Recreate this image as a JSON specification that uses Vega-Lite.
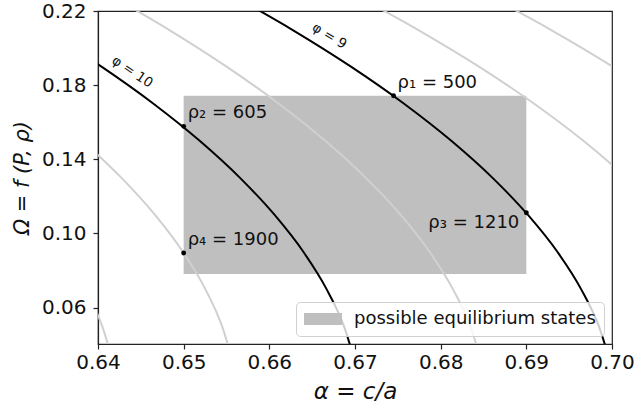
{
  "$schema": "https://vega.github.io/schema/vega-lite/v6.json",
  "autosize": {"type": "none"},
  "padding": {"left": 98, "top": 11, "right": 26, "bottom": 65},
  "width": 514,
  "height": 333,
  "background": "white",
  "config": {
    "font": "DejaVu Sans",
    "view": {"stroke": "#222", "strokeWidth": 1.2},
    "axis": {
      "domainColor": "#222", "tickColor": "#222", "labelColor": "#111", "titleColor": "#111",
      "labelFont": "DejaVu Sans", "titleFont": "DejaVu Sans",
      "labelFontSize": 20, "titleFontSize": 21, "titleFontWeight": "normal",
      "tickSize": 5, "tickWidth": 1.2, "domainWidth": 1.2, "grid": false,
      "labelFlush": false, "labelOverlap": false
    }
  },
  "datasets": {
    "curves": [
      {"curve": "phi10", "kind": "black", "omega": 0.03, "alpha": 0.67005},
      {"curve": "phi10", "kind": "black", "omega": 0.05, "alpha": 0.66871},
      {"curve": "phi10", "kind": "black", "omega": 0.07, "alpha": 0.66668},
      {"curve": "phi10", "kind": "black", "omega": 0.09, "alpha": 0.66399},
      {"curve": "phi10", "kind": "black", "omega": 0.11, "alpha": 0.66062},
      {"curve": "phi10", "kind": "black", "omega": 0.13, "alpha": 0.65658},
      {"curve": "phi10", "kind": "black", "omega": 0.15, "alpha": 0.65187},
      {"curve": "phi10", "kind": "black", "omega": 0.17, "alpha": 0.64648},
      {"curve": "phi10", "kind": "black", "omega": 0.19, "alpha": 0.64041},
      {"curve": "phi10", "kind": "black", "omega": 0.21, "alpha": 0.63368},
      {"curve": "phi9", "kind": "black", "omega": 0.03, "alpha": 0.69984},
      {"curve": "phi9", "kind": "black", "omega": 0.05, "alpha": 0.69846},
      {"curve": "phi9", "kind": "black", "omega": 0.07, "alpha": 0.69639},
      {"curve": "phi9", "kind": "black", "omega": 0.09, "alpha": 0.69364},
      {"curve": "phi9", "kind": "black", "omega": 0.11, "alpha": 0.69019},
      {"curve": "phi9", "kind": "black", "omega": 0.13, "alpha": 0.68606},
      {"curve": "phi9", "kind": "black", "omega": 0.15, "alpha": 0.68124},
      {"curve": "phi9", "kind": "black", "omega": 0.17, "alpha": 0.67573},
      {"curve": "phi9", "kind": "black", "omega": 0.19, "alpha": 0.66953},
      {"curve": "phi9", "kind": "black", "omega": 0.21, "alpha": 0.66264},
      {"curve": "phi9", "kind": "black", "omega": 0.23, "alpha": 0.65506},
      {"curve": "gA", "kind": "gray", "omega": 0.03, "alpha": 0.68482},
      {"curve": "gA", "kind": "gray", "omega": 0.05, "alpha": 0.68346},
      {"curve": "gA", "kind": "gray", "omega": 0.07, "alpha": 0.68143},
      {"curve": "gA", "kind": "gray", "omega": 0.09, "alpha": 0.67872},
      {"curve": "gA", "kind": "gray", "omega": 0.11, "alpha": 0.67534},
      {"curve": "gA", "kind": "gray", "omega": 0.13, "alpha": 0.67127},
      {"curve": "gA", "kind": "gray", "omega": 0.15, "alpha": 0.66653},
      {"curve": "gA", "kind": "gray", "omega": 0.17, "alpha": 0.66111},
      {"curve": "gA", "kind": "gray", "omega": 0.19, "alpha": 0.65501},
      {"curve": "gA", "kind": "gray", "omega": 0.21, "alpha": 0.64824},
      {"curve": "gA", "kind": "gray", "omega": 0.23, "alpha": 0.64079},
      {"curve": "gB", "kind": "gray", "omega": 0.11, "alpha": 0.70598},
      {"curve": "gB", "kind": "gray", "omega": 0.13, "alpha": 0.70167},
      {"curve": "gB", "kind": "gray", "omega": 0.15, "alpha": 0.69666},
      {"curve": "gB", "kind": "gray", "omega": 0.17, "alpha": 0.69092},
      {"curve": "gB", "kind": "gray", "omega": 0.19, "alpha": 0.68447},
      {"curve": "gB", "kind": "gray", "omega": 0.21, "alpha": 0.67730},
      {"curve": "gB", "kind": "gray", "omega": 0.23, "alpha": 0.66941},
      {"curve": "gC", "kind": "gray", "omega": 0.15, "alpha": 0.71240},
      {"curve": "gC", "kind": "gray", "omega": 0.17, "alpha": 0.70660},
      {"curve": "gC", "kind": "gray", "omega": 0.19, "alpha": 0.70007},
      {"curve": "gC", "kind": "gray", "omega": 0.21, "alpha": 0.69281},
      {"curve": "gC", "kind": "gray", "omega": 0.23, "alpha": 0.68483},
      {"curve": "gD", "kind": "gray", "omega": 0.03, "alpha": 0.65579},
      {"curve": "gD", "kind": "gray", "omega": 0.05, "alpha": 0.65448},
      {"curve": "gD", "kind": "gray", "omega": 0.07, "alpha": 0.65253},
      {"curve": "gD", "kind": "gray", "omega": 0.09, "alpha": 0.64992},
      {"curve": "gD", "kind": "gray", "omega": 0.11, "alpha": 0.64666},
      {"curve": "gD", "kind": "gray", "omega": 0.13, "alpha": 0.64275},
      {"curve": "gD", "kind": "gray", "omega": 0.15, "alpha": 0.63819},
      {"curve": "gE", "kind": "gray", "omega": 0.03, "alpha": 0.64180},
      {"curve": "gE", "kind": "gray", "omega": 0.05, "alpha": 0.64049},
      {"curve": "gE", "kind": "gray", "omega": 0.07, "alpha": 0.63852}
    ],
    "region": [
      {"a1": 0.65, "a2": 0.69, "o1": 0.0782, "o2": 0.1743, "label": "possible equilibrium states"}
    ],
    "states": [
      {"alpha": 0.6745, "omega": 0.1743, "label": "ρ₁ = 500"},
      {"alpha": 0.65, "omega": 0.1578, "label": "ρ₂ = 605"},
      {"alpha": 0.69, "omega": 0.1112, "label": "ρ₃ = 1210"},
      {"alpha": 0.65, "omega": 0.0895, "label": "ρ₄ = 1900"}
    ],
    "phis": [
      {"alpha": 0.6440, "omega": 0.1871, "label": "φ = 10"},
      {"alpha": 0.6670, "omega": 0.2065, "label": "φ = 9"}
    ]
  },
  "encoding": {
    "x": {"field": "alpha", "type": "quantitative",
      "scale": {"domain": [0.64, 0.70], "nice": false, "zero": false},
      "axis": {"values": [0.64, 0.65, 0.66, 0.67, 0.68, 0.69, 0.70], "format": ".2f", "labelPadding": 3, "title": "α = c/a", "titleFontStyle": "italic", "titleFontSize": 23, "titlePadding": 8}},
    "y": {"field": "omega", "type": "quantitative",
      "scale": {"domain": [0.0404, 0.22], "nice": false, "zero": false},
      "axis": {"values": [0.06, 0.10, 0.14, 0.18, 0.22], "format": ".2f", "labelPadding": 7, "title": "Ω = f (P, ρ)", "titleFontStyle": "italic", "titlePadding": 9}}
  },
  "layer": [
    {
      "data": {"name": "region"},
      "mark": {"type": "rect"},
      "encoding": {
        "x": {"field": "a1", "type": "quantitative"},
        "x2": {"field": "a2"},
        "y": {"field": "o1", "type": "quantitative"},
        "y2": {"field": "o2"},
        "color": {"field": "label", "type": "nominal",
          "scale": {"range": ["#bfbfbf"]},
          "legend": {"title": null, "orient": "bottom-right", "offset": 8, "padding": 8, "zindex": 1,
            "fillColor": "rgba(255,255,255,0.8)", "strokeColor": "#d0d0d0", "cornerRadius": 4,
            "labelFontSize": 18, "labelFont": "DejaVu Sans", "labelColor": "#111", "labelLimit": 400,
            "clipHeight": 18,
            "symbolType": "M-1,-0.32H1V0.32H-1Z", "symbolSize": 1444, "symbolStrokeWidth": 0,
            "symbolOpacity": 1, "labelOffset": 12}}
      }
    },
    {
      "data": {"name": "curves"},
      "transform": [{"filter": "datum.kind == 'gray'"}],
      "mark": {"type": "line", "clip": true, "color": "#d0d0d0", "strokeWidth": 2, "interpolate": "monotone"},
      "encoding": {"detail": {"field": "curve"}}
    },
    {
      "data": {"name": "curves"},
      "transform": [{"filter": "datum.kind == 'black'"}],
      "mark": {"type": "line", "clip": true, "color": "#000000", "strokeWidth": 2, "interpolate": "monotone"},
      "encoding": {"detail": {"field": "curve"}}
    },
    {
      "data": {"name": "states"},
      "mark": {"type": "point", "filled": true, "color": "#000", "size": 24, "opacity": 1},
      "encoding": {}
    },
    {
      "data": {"name": "states"},
      "transform": [{"filter": "datum.label != 'ρ₃ = 1210'"}],
      "mark": {"type": "text", "align": "left", "baseline": "alphabetic", "dx": 4, "dy": -8, "fontSize": 18, "color": "#111"},
      "encoding": {"text": {"field": "label"}}
    },
    {
      "data": {"name": "states"},
      "transform": [{"filter": "datum.label == 'ρ₃ = 1210'"}],
      "mark": {"type": "text", "align": "right", "baseline": "alphabetic", "dx": -7, "dy": 15, "fontSize": 18, "color": "#111"},
      "encoding": {"text": {"field": "label"}}
    },
    {
      "data": {"name": "phis"},
      "transform": [{"filter": "datum.label == 'φ = 10'"}],
      "mark": {"type": "text", "align": "center", "baseline": "middle", "angle": 34, "fontSize": 13.5, "color": "#111"},
      "encoding": {"text": {"field": "label"}}
    },
    {
      "data": {"name": "phis"},
      "transform": [{"filter": "datum.label == 'φ = 9'"}],
      "mark": {"type": "text", "align": "center", "baseline": "middle", "angle": 31, "fontSize": 13.5, "color": "#111"},
      "encoding": {"text": {"field": "label"}}
    }
  ]
}
